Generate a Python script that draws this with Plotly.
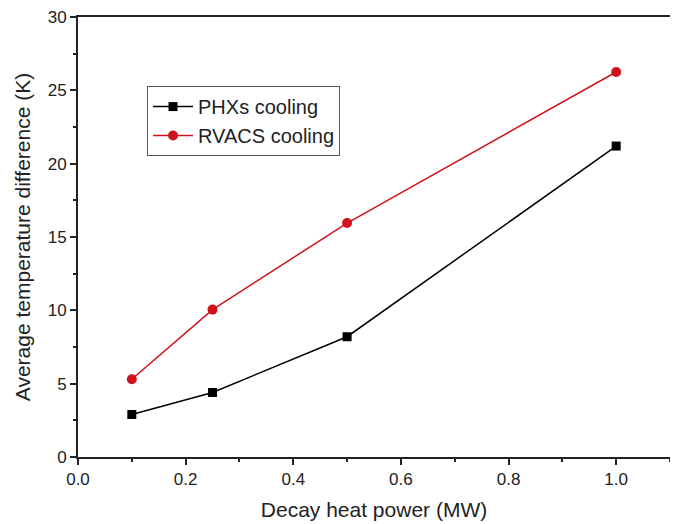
import plotly.graph_objects as go

power = [0.1, 0.25, 0.5, 1.0]
phx = [2.9, 4.4, 8.2, 21.2]
rvacs = [5.3, 10.05, 15.95, 26.25]

FONT = "Liberation Sans, Arial"
INK = "#222"

fig = go.Figure()
fig.add_trace(go.Scatter(x=power, y=phx, mode="lines+markers", name="PHXs cooling",
                         line=dict(color="black", width=1.5),
                         marker=dict(symbol="square", size=9, color="black")))
fig.add_trace(go.Scatter(x=power, y=rvacs, mode="lines+markers", name="RVACS cooling",
                         line=dict(color="#d0121b", width=1.5),
                         marker=dict(symbol="circle", size=10, color="#d0121b")))

axis_common = dict(showline=True, linecolor=INK, linewidth=2, mirror=True,
                   ticks="outside", ticklen=6, tickwidth=2, tickcolor=INK,
                   showgrid=False, zeroline=False, automargin=False,
                   ticklabeloverflow="allow",
                   tickfont=dict(family=FONT, size=17, color=INK))

fig.update_layout(
    width=670, height=516,
    margin=dict(l=70, r=8, t=9, b=67),
    plot_bgcolor="white", paper_bgcolor="white",
    xaxis=dict(range=[0, 1.1], tickvals=[0, 0.2, 0.4, 0.6, 0.8, 1.0],
               ticktext=["0.0", "0.2", "0.4", "0.6", "0.8", "1.0"],
               title=dict(text="Decay heat power (MW)", font=dict(family=FONT, size=21, color=INK), standoff=14),
               minor=dict(ticks="outside", ticklen=3, tickwidth=2, tickcolor=INK, dtick=0.1, tick0=0),
               **axis_common),
    yaxis=dict(range=[0, 30], tickvals=[0, 5, 10, 15, 20, 25, 30],
               title=dict(text="Average temperature difference (K)", font=dict(family=FONT, size=21, color=INK), standoff=11),
               minor=dict(ticks="outside", ticklen=3, tickwidth=2, tickcolor=INK, dtick=2.5, tick0=0),
               **axis_common),
    legend=dict(x=0.1166, y=0.843, xanchor="left", yanchor="top",
                bordercolor="#555", borderwidth=1, bgcolor="white",
                font=dict(family=FONT, size=20, color=INK),
                tracegroupgap=0, itemwidth=40),
    showlegend=True,
)

fig.write_html("out.html")
